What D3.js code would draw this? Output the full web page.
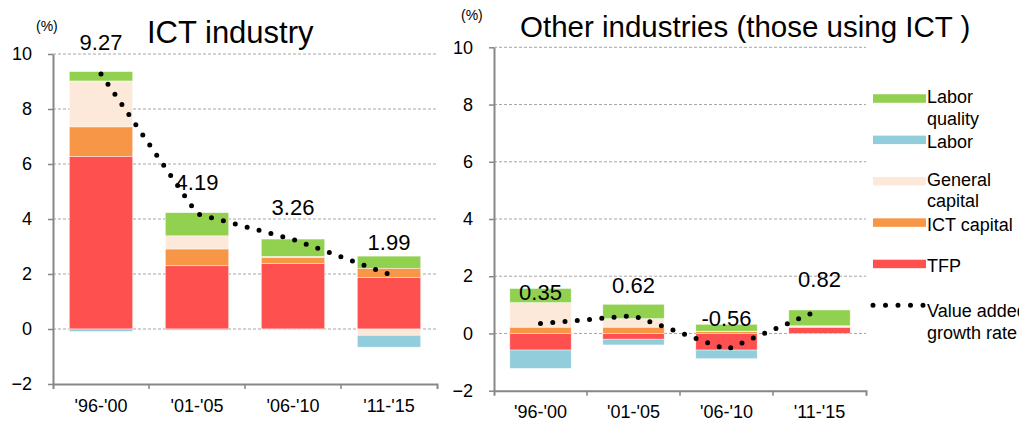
<!DOCTYPE html>
<html>
<head>
<meta charset="utf-8">
<script src="https://cdn.jsdelivr.net/npm/d3@7"></script>
<style>
  body { margin: 0; background: #fff; }
  svg { display: block; font-family: "Liberation Sans", Arial, sans-serif; }
</style>
</head>
<body>
<svg id="chart" width="1019" height="432"></svg>
<script>
// Growth accounting: contributions to value added growth (percentage points)
const periods = ["'96-'00", "'01-'05", "'06-'10", "'11-'15"];
const components = ["TFP", "ICT capital", "General capital", "Labor", "Labor quality"];
const yTicks = [-2, 0, 2, 4, 6, 8, 10];

// ICT industry
const ictTFP            = [6.28, 2.30, 2.39, 1.88];
const ictICTCapital     = [1.07, 0.61, 0.22, 0.33];
const ictGeneralCapital = [1.67, 0.48, 0.03, -0.23];
const ictLabor          = [-0.09, -0.04, -0.01, -0.43];
const ictLaborQuality   = [0.34, 0.84, 0.63, 0.44];
const ictValueAdded     = [9.27, 4.19, 3.26, 1.99];

// Other industries (those using ICT)
const otherTFP            = [-0.58, -0.20, -0.58, 0.21];
const otherICTCapital     = [0.22, 0.22, 0.07, 0.02];
const otherGeneralCapital = [0.86, 0.30, 0.01, 0.04];
const otherLabor          = [-0.64, -0.20, -0.30, 0.00];
const otherLaborQuality   = [0.49, 0.50, 0.24, 0.55];
const otherValueAdded     = [0.35, 0.62, -0.56, 0.82];

const legendLabels = [
  ["Labor", "quality"],
  ["Labor"],
  ["General", "capital"],
  ["ICT capital"],
  ["TFP"],
  ["Value added", "growth rate"]
];

const colors = {
  "TFP": "#FF5050",
  "ICT capital": "#F79646",
  "General capital": "#FDE9D9",
  "Labor": "#92CDDC",
  "Labor quality": "#92D050"
};

function rowsFrom(tfp, ict, gen, lab, lq) {
  return periods.map((p, i) => ({
    period: p,
    "TFP": tfp[i],
    "ICT capital": ict[i],
    "General capital": gen[i],
    "Labor": lab[i],
    "Labor quality": lq[i]
  }));
}

const svg = d3.select("#chart");
const axisColor = "#878787";

function drawPanel(cfg) {
  const g = svg.append("g");
  const x = d3.scaleBand().domain(periods).range([cfg.left, cfg.right])
    .paddingInner(0.34).paddingOuter(0.17);
  const y = d3.scaleLinear().domain([-2, 10]).range([cfg.bottom, cfg.top]);
  const cx = d => x(d) + x.bandwidth() / 2;

  // dashed gridlines
  g.append("g").selectAll("line")
    .data(yTicks.filter(t => t > -2))
    .join("line")
    .attr("x1", cfg.left).attr("x2", cfg.right)
    .attr("y1", d => y(d)).attr("y2", d => y(d))
    .attr("stroke", "#a6a6a6").attr("stroke-width", 1)
    .attr("stroke-dasharray", "3,2");

  // stacked bars (negatives stack downward from zero)
  const stack = d3.stack().keys(components).offset(d3.stackOffsetDiverging);
  const series = stack(cfg.rows);
  g.append("g").selectAll("g")
    .data(series)
    .join("g")
    .attr("fill", s => colors[s.key])
    .selectAll("rect")
    .data(s => s)
    .join("rect")
    .attr("x", d => x(d.data.period))
    .attr("width", x.bandwidth())
    .attr("y", d => y(Math.max(d[0], d[1])))
    .attr("height", d => Math.abs(y(d[0]) - y(d[1])))
    .attr("stroke", "#ffffff").attr("stroke-width", 0.6).attr("stroke-opacity", 0.7);

  // y axis
  const yAxis = g.append("g")
    .attr("transform", `translate(${cfg.left},0)`)
    .call(d3.axisLeft(y).tickValues(yTicks).tickSize(5).tickSizeOuter(0).tickPadding(16));
  yAxis.select(".domain").attr("stroke", axisColor).attr("stroke-width", 2);
  yAxis.selectAll(".tick line").attr("stroke", axisColor).attr("stroke-width", 1.5);
  yAxis.selectAll(".tick text").attr("font-size", 18).attr("fill", "#000")
    .attr("font-family", "Liberation Sans, Arial, sans-serif");

  // x axis with ticks between categories
  const xAxis = g.append("g")
    .attr("transform", `translate(0,${cfg.bottom})`)
    .call(d3.axisBottom(x).tickSize(0).tickSizeOuter(5).tickPadding(15));
  xAxis.select(".domain").attr("stroke", axisColor).attr("stroke-width", 2);
  xAxis.selectAll(".tick text").attr("font-size", 18).attr("fill", "#000")
    .attr("font-family", "Liberation Sans, Arial, sans-serif");
  xAxis.selectAll(".sep")
    .data(periods.slice(1))
    .join("line")
    .attr("class", "sep")
    .attr("x1", d => x(d) - x.step() * x.paddingInner() / 2)
    .attr("x2", d => x(d) - x.step() * x.paddingInner() / 2)
    .attr("y1", 0).attr("y2", 5)
    .attr("stroke", axisColor).attr("stroke-width", 1.5);

  // value added growth line (round dots)
  const line = d3.line().x((d, i) => cx(periods[i])).y(d => y(d));
  g.append("path")
    .datum(cfg.valueAdded)
    .attr("d", line)
    .attr("fill", "none")
    .attr("stroke", "#000")
    .attr("stroke-width", 5)
    .attr("stroke-linecap", "round")
    .attr("stroke-dasharray", "0 12.3");

  // value labels
  g.append("g").selectAll("text")
    .data(cfg.valueAdded)
    .join("text")
    .attr("x", (d, i) => cx(periods[i]))
    .attr("y", d => y(d) - cfg.labelGap)
    .attr("text-anchor", "middle")
    .attr("font-size", 22)
    .attr("fill", "#000")
    .text(d => d.toFixed(2));

  // title and unit
  g.append("text")
    .attr("x", cfg.titleX).attr("y", cfg.titleY)
    .attr("font-size", cfg.titleSize).attr("fill", "#000")
    .text(cfg.title);
  g.append("text")
    .attr("x", cfg.unitX).attr("y", cfg.unitY)
    .attr("font-size", 14).attr("fill", "#000")
    .text("(%)");
}

drawPanel({
  rows: rowsFrom(ictTFP, ictICTCapital, ictGeneralCapital, ictLabor, ictLaborQuality),
  valueAdded: ictValueAdded,
  left: 53, right: 437, top: 54, bottom: 384,
  labelGap: 24,
  title: "ICT industry", titleX: 147, titleY: 43, titleSize: 31,
  unitX: 36, unitY: 31
});

drawPanel({
  rows: rowsFrom(otherTFP, otherICTCapital, otherGeneralCapital, otherLabor, otherLaborQuality),
  valueAdded: otherValueAdded,
  left: 494, right: 866, top: 47.3, bottom: 390.7,
  labelGap: 23,
  title: "Other industries (those using ICT )", titleX: 520, titleY: 37, titleSize: 29.5,
  unitX: 461, unitY: 20
});

// legend
const legendKeys = components.slice().reverse().concat(["Value added growth rate"]);
const ly = d3.scalePoint().domain(legendKeys).range([98.5, 305.3]);
const legend = svg.append("g");
legendKeys.forEach((k, i) => {
  const yc = ly(k);
  if (colors[k]) {
    legend.append("rect")
      .attr("x", 873).attr("y", yc - 4.25)
      .attr("width", 53).attr("height", 8.5)
      .attr("fill", colors[k]);
  } else {
    legend.append("line")
      .attr("x1", 873).attr("x2", 923.5)
      .attr("y1", yc).attr("y2", yc)
      .attr("stroke", "#000").attr("stroke-width", 5)
      .attr("stroke-linecap", "round")
      .attr("stroke-dasharray", "0 12.5");
  }
  const lines = legendLabels[i];
  const first = colors[k] ? (lines.length > 1 ? 4.5 : 8) : 12;
  const t = legend.append("text")
    .attr("x", 927).attr("y", yc + first)
    .attr("font-size", 18).attr("fill", "#000");
  lines.forEach((s, j) => {
    t.append("tspan").attr("x", 927).attr("dy", j === 0 ? 0 : 21.5).text(s);
  });
});
</script>
</body>
</html>
